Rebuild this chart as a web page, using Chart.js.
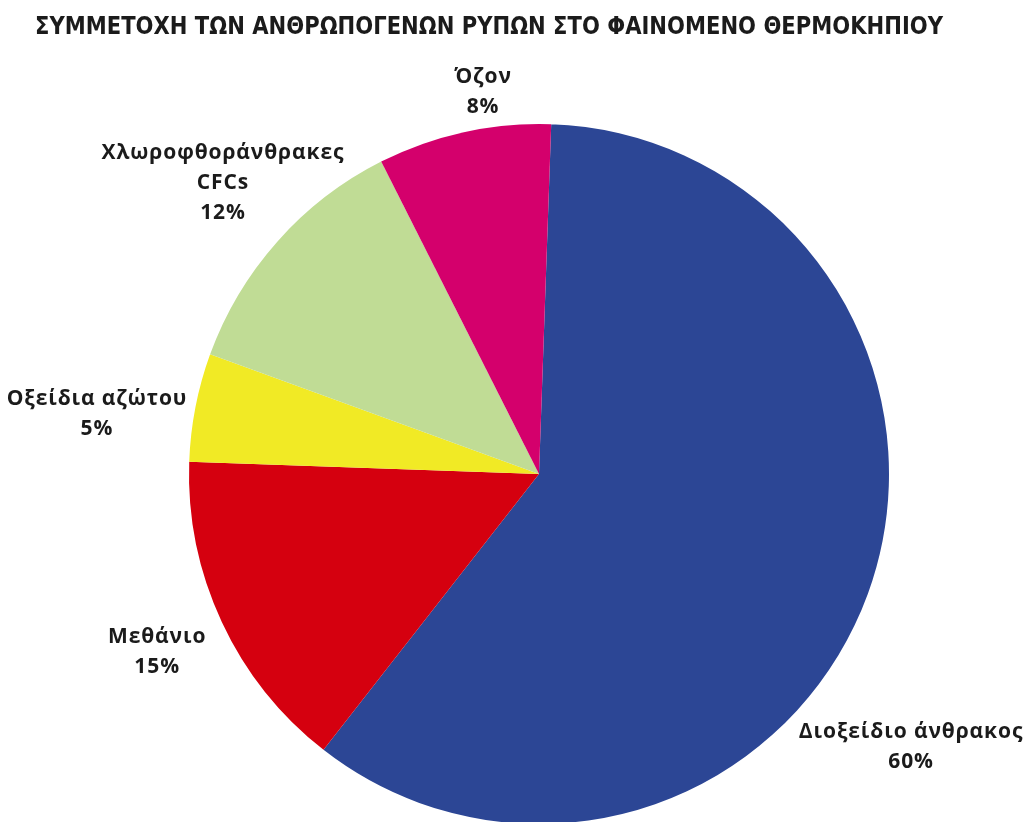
<!DOCTYPE html>
<html lang="el">
<head>
<meta charset="utf-8">
<title>Συμμετοχή των ανθρωπογενών ρύπων στο φαινόμενο θερμοκηπίου</title>
<script src="https://cdn.jsdelivr.net/npm/chart.js@4.4.1/dist/chart.umd.min.js"></script>
<style>
  html, body { margin: 0; padding: 0; background: #ffffff; overflow: hidden; }
  #wrap { position: relative; width: 1031px; height: 830px; }
</style>
</head>
<body>
<div id="wrap"><canvas id="pie"></canvas></div>
<script>
// Pollutants, in drawing order (clockwise from the top)
const categories = ['Διοξείδιο άνθρακος', 'Μεθάνιο', 'Οξείδια αζώτου', 'Χλωροφθοράνθρακες CFCs', 'Όζον'];
const shares = [60, 15, 5, 12, 8];
const labelLines = [
  ['Διοξείδιο άνθρακος'],
  ['Μεθάνιο'],
  ['Οξείδια αζώτου'],
  ['Χλωροφθοράνθρακες', 'CFCs'],
  ['Όζον']
];
const sliceColors = ['#2c4695', '#d5000f', '#f1ea25', '#c0dc95', '#d4006c'];
const chartTitle = 'ΣΥΜΜΕΤΟΧΗ ΤΩΝ ΑΝΘΡΩΠΟΓΕΝΩΝ ΡΥΠΩΝ ΣΤΟ ΦΑΙΝΟΜΕΝΟ ΘΕΡΜΟΚΗΠΙΟΥ';

// Where each label block's first line sits, relative to the pie centre, in radii
const labelAnchors = [
  [1.063, 0.737],
  [-1.091, 0.466],
  [-1.263, -0.214],
  [-0.903, -0.917],
  [-0.160, -1.134]
];

const labelPlugin = {
  id: 'pieLabels',
  afterDraw(chart) {
    const ctx = chart.ctx;
    const arc = chart.getDatasetMeta(0).data[0];
    const cx = arc.x, cy = arc.y, r = arc.outerRadius;
    ctx.save();
    ctx.fillStyle = '#1b1b1b';
    ctx.textAlign = 'center';
    ctx.textBaseline = 'middle';

    // Title
    ctx.font = 'bold 24px "DejaVu Sans Condensed", "Liberation Sans Narrow", sans-serif';
    ctx.fillText(chartTitle, 489, 28, 908);

    // Slice labels with percentages
    ctx.font = 'bold 21px "Open Sans", "Noto Sans", sans-serif';
    ctx.letterSpacing = '0.9px';
    const lineH = 30;
    shares.forEach((v, i) => {
      const x = cx + labelAnchors[i][0] * r;
      const y = cy + labelAnchors[i][1] * r;
      const lines = labelLines[i].concat([v + '%']);
      lines.forEach((t, k) => ctx.fillText(t, x, y + k * lineH));
    });
    ctx.restore();
  }
};

new Chart(document.getElementById('pie'), {
  type: 'pie',
  data: {
    labels: categories,
    datasets: [{
      data: shares,
      backgroundColor: sliceColors,
      borderWidth: 0,
      hoverBorderWidth: 0,
      hoverOffset: 0
    }]
  },
  options: {
    responsive: true,
    maintainAspectRatio: false,
    animation: false,
    rotation: 2,
    layout: { padding: { left: 47, right: 0, top: 124, bottom: 6 } },
    plugins: {
      legend: { display: false },
      title: { display: false },
      tooltip: { enabled: false }
    },
    events: []
  },
  plugins: [labelPlugin]
});
</script>
</body>
</html>
